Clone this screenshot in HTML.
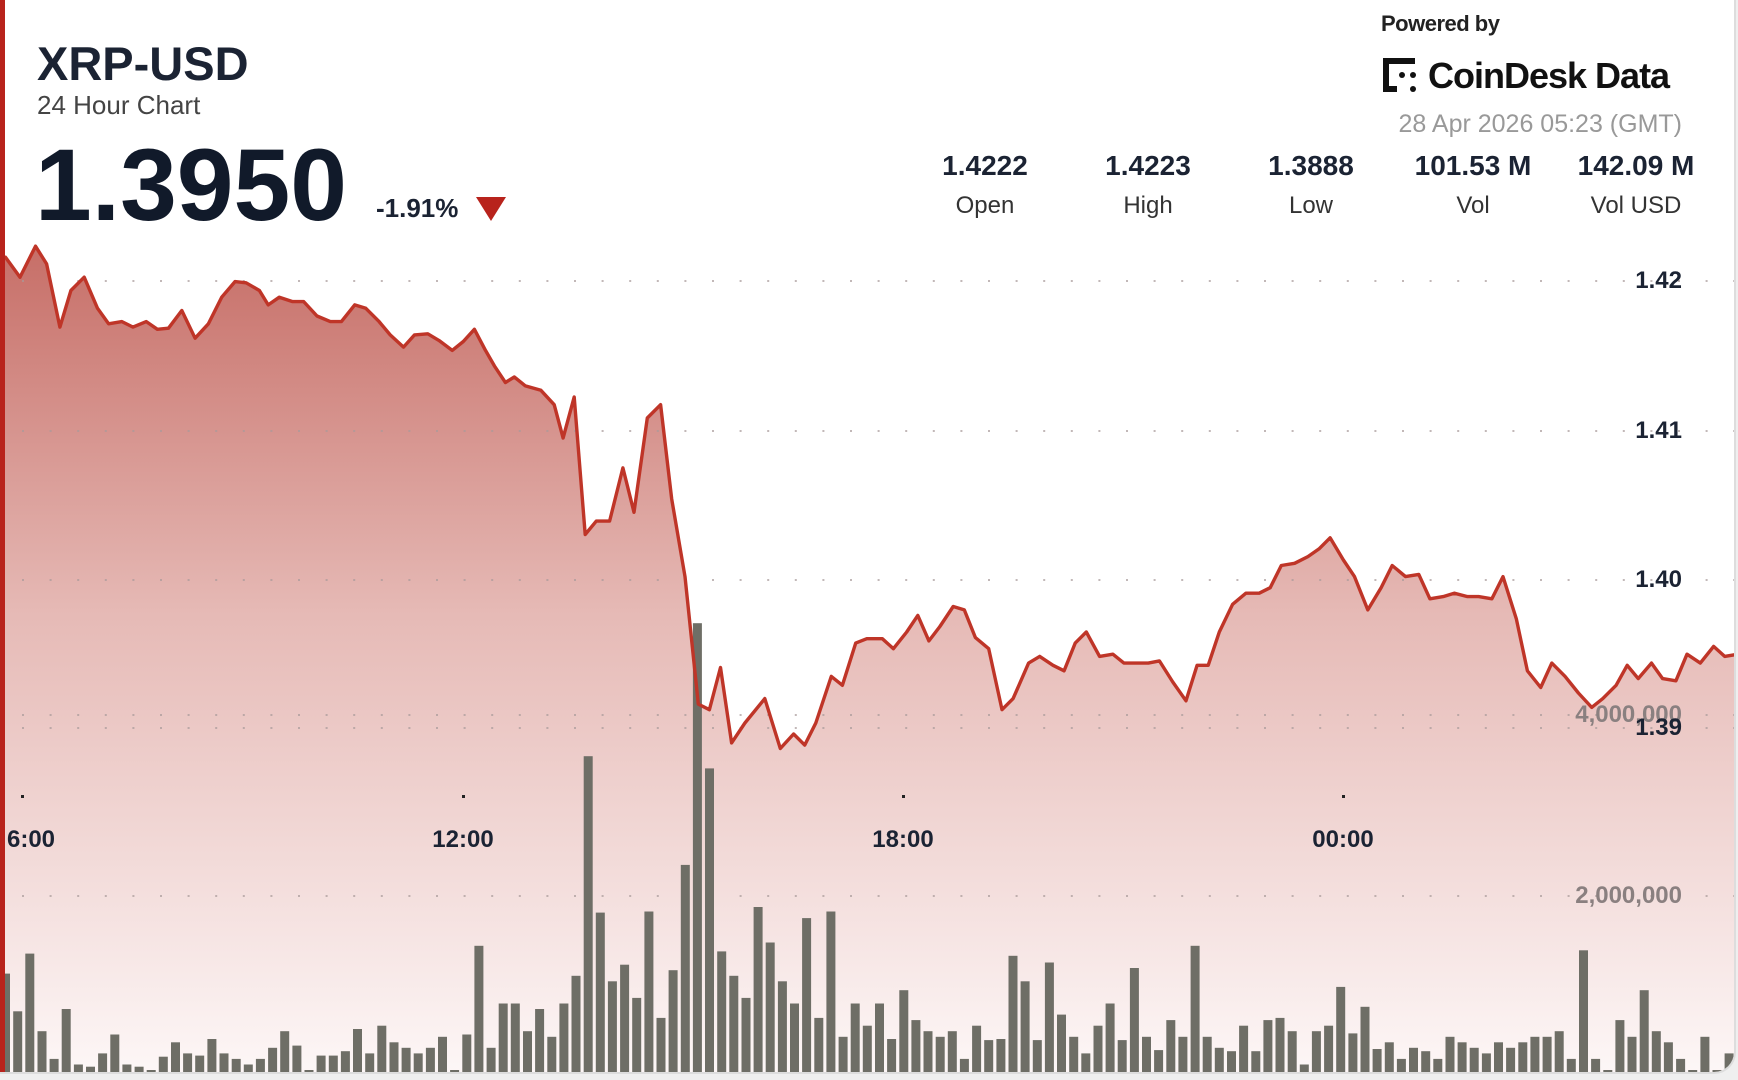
<!DOCTYPE html>
<html><head><meta charset="utf-8"><style>
html,body{margin:0;padding:0;background:#fff;}
#w{position:relative;width:1738px;height:1080px;overflow:hidden;background:#efefef;font-family:"Liberation Sans",sans-serif;}
#card{position:absolute;left:0;top:0;width:1734px;height:1072px;background:#fff;border-bottom-right-radius:22px;overflow:hidden;border-right:2px solid #ddd;border-bottom:2px solid #ddd;}
.t{position:absolute;white-space:nowrap;}
#bar{position:absolute;left:0;top:0;width:5px;height:1080px;background:#b8231c;}
.sv{position:absolute;width:160px;text-align:center;font-weight:bold;font-size:28px;color:#1b2333;}
.sl{position:absolute;width:160px;text-align:center;font-size:24px;color:#333;}
.yl{position:absolute;right:52px;font-weight:bold;font-size:24px;color:#1b2333;}
.vl{position:absolute;right:52px;font-weight:bold;font-size:24px;color:#8a8080;}
.xl{position:absolute;font-weight:bold;font-size:24px;color:#1b2333;transform:translateX(-50%);}
</style></head><body><div id="w"><div id="card">
<svg id="s" width="1738" height="1080" style="position:absolute;left:0;top:0">
<defs><linearGradient id="g" gradientUnits="userSpaceOnUse" x1="0" y1="240" x2="0" y2="1075">
<stop offset="0" stop-color="#c66d66"/><stop offset="0.45" stop-color="#e6bab6"/><stop offset="1" stop-color="#fdf7f7"/></linearGradient></defs>
<path id="area" fill="url(#g)"/>
<g id="grid"></g>
<g id="bars" fill="#6e6e66"></g>
<path id="line" fill="none" stroke="#bf3528" stroke-width="3.4" stroke-linejoin="round"/>
<g id="ticks" fill="#222"></g>
</svg>
<div id="bar"></div>
<div class="t" style="left:37px;top:36px;font-size:47px;font-weight:bold;color:#1b2333">XRP-USD</div>
<div class="t" style="left:37px;top:90px;font-size:26px;color:#444">24 Hour Chart</div>
<div class="t" style="left:35px;top:127px;font-size:102px;font-weight:bold;color:#111a2a">1.3950</div>
<div class="t" style="left:376px;top:193px;font-size:26px;font-weight:bold;color:#1b2333">-1.91%</div>
<svg class="t" style="left:476px;top:197px" width="30" height="25"><polygon points="0,0 30,0 15,24" fill="#b8231c"/></svg>
<div class="t" style="left:1381px;top:11px;font-size:22px;font-weight:bold;color:#222;letter-spacing:-0.5px">Powered by</div>
<svg class="t" style="left:1381px;top:56px" width="40" height="38"><g fill="#111"><rect x="2" y="2" width="6" height="34"/><rect x="2" y="2" width="32" height="6"/><rect x="2" y="30" width="14" height="6"/><circle cx="21" cy="19" r="3"/><circle cx="32" cy="19" r="3"/><circle cx="32" cy="33" r="3"/></g></svg>
<div class="t" style="left:1428px;top:55px;font-size:36px;font-weight:bold;color:#111;letter-spacing:-1px">CoinDesk Data</div>
<div class="t" style="right:52px;top:110px;font-size:25px;color:#999">28 Apr 2026 05:23 (GMT)</div>
<div class="sv" style="left:905px;top:150px">1.4222</div><div class="sl" style="left:905px;top:192px">Open</div>
<div class="sv" style="left:1068px;top:150px">1.4223</div><div class="sl" style="left:1068px;top:192px">High</div>
<div class="sv" style="left:1231px;top:150px">1.3888</div><div class="sl" style="left:1231px;top:192px">Low</div>
<div class="sv" style="left:1393px;top:150px">101.53 M</div><div class="sl" style="left:1393px;top:192px">Vol</div>
<div class="sv" style="left:1556px;top:150px">142.09 M</div><div class="sl" style="left:1556px;top:192px">Vol USD</div>
<div class="yl" style="top:267px">1.42</div>
<div class="yl" style="top:417px">1.41</div>
<div class="yl" style="top:566px">1.40</div>
<div class="vl" style="top:701px">4,000,000</div>
<div class="yl" style="top:714px">1.39</div>
<div class="vl" style="top:882px">2,000,000</div>
<div class="xl" style="left:31px;top:826px">6:00</div>
<div class="xl" style="left:463px;top:826px">12:00</div>
<div class="xl" style="left:903px;top:826px">18:00</div>
<div class="xl" style="left:1343px;top:826px">00:00</div>
</div></div>
<script>
var S=1738/1568,SY=1080/974;
var P=[[5,232],[18,250],[32,222],[42,238],[54,295],[64,262],[76,250],[88,278],[98,292],[110,290],[120,295],[132,290],[142,297],[152,296],[164,280],[176,305],[188,292],[200,268],[212,254],[222,255],[234,262],[242,275],[252,268],[264,272],[274,272],[286,285],[298,290],[308,290],[320,275],[330,278],[342,290],[352,302],[364,313],[374,302],[386,301],[396,307],[408,316],[418,308],[428,297],[438,316],[446,330],[456,345],[464,340],[474,348],[488,352],[500,365],[508,395],[518,358],[528,482],[538,470],[550,470],[562,422],[572,462],[584,377],[596,365],[606,450],[618,520],[630,635],[640,640],[650,602],[660,670],[672,652],[690,630],[704,675],[716,662],[726,672],[736,652],[750,610],[760,618],[772,580],[782,576],[796,576],[806,585],[818,570],[828,555],[838,578],[848,565],[860,547],[870,550],[880,575],[892,585],[904,640],[914,630],[928,598],[938,592],[950,600],[960,605],[970,580],[980,570],[992,592],[1004,590],[1014,598],[1024,598],[1036,598],[1046,596],[1058,615],[1070,632],[1080,600],[1090,600],[1100,570],[1112,545],[1124,535],[1136,535],[1146,530],[1156,510],[1168,508],[1180,502],[1190,495],[1200,485],[1212,505],[1222,520],[1234,550],[1246,530],[1256,510],[1268,520],[1280,518],[1290,540],[1302,538],[1312,535],[1324,538],[1334,538],[1346,540],[1356,520],[1368,558],[1378,605],[1390,620],[1400,598],[1412,610],[1424,625],[1436,638],[1446,630],[1458,618],[1468,600],[1478,612],[1490,598],[1500,612],[1512,614],[1522,590],[1534,598],[1546,583],[1556,592],[1568,590]];
var d="";P.forEach(function(p,i){d+=(i?"L":"M")+(p[0]*S).toFixed(1)+","+(p[1]*SY).toFixed(1);});
document.getElementById("line").setAttribute("d","M0,"+(232*SY)+"L"+d.slice(1));
document.getElementById("area").setAttribute("d","M0,"+(232*SY)+"L"+d.slice(1)+"L1738,1080L0,1080Z");
var B=[878,912,860,930,955,910,960,962,950,933,960,962,965,953,940,950,952,937,950,955,960,955,945,930,943,965,952,952,948,928,950,925,940,945,950,945,935,965,933,853,945,905,905,930,910,935,905,880,682,823,885,870,900,822,918,875,780,562,693,858,880,900,818,850,885,905,828,918,822,935,905,925,905,937,893,920,930,935,930,955,925,938,937,862,885,938,868,915,935,950,925,905,938,873,935,947,920,935,853,935,945,948,925,948,920,918,930,960,930,925,890,932,908,946,940,955,945,948,955,935,940,945,950,940,945,940,935,935,930,955,857,955,965,920,935,893,930,940,955,965,935,965,950];
var step=(1560-5)/(B.length-1),h="";
B.forEach(function(t,i){var x=(5+i*step)*S,y=t*SY;h+='<rect x="'+(x-4.5).toFixed(1)+'" y="'+y.toFixed(1)+'" width="9" height="'+(1072-y).toFixed(1)+'"/>';});
document.getElementById("bars").innerHTML=h;
var g="";[281,431,580,715,728,896].forEach(function(y){for(var x=22;x<1738;x+=27.6)g+='<rect x="'+x.toFixed(1)+'" y="'+(y-1)+'" width="2" height="2" fill="#a89a9a" opacity="0.7"/>';});
document.getElementById("grid").innerHTML=g;
var tk="";[22,463,903,1343].forEach(function(x){tk+='<rect x="'+(x-1)+'" y="795" width="3" height="3"/>';});
document.getElementById("ticks").innerHTML=tk;
</script>
</body></html>
